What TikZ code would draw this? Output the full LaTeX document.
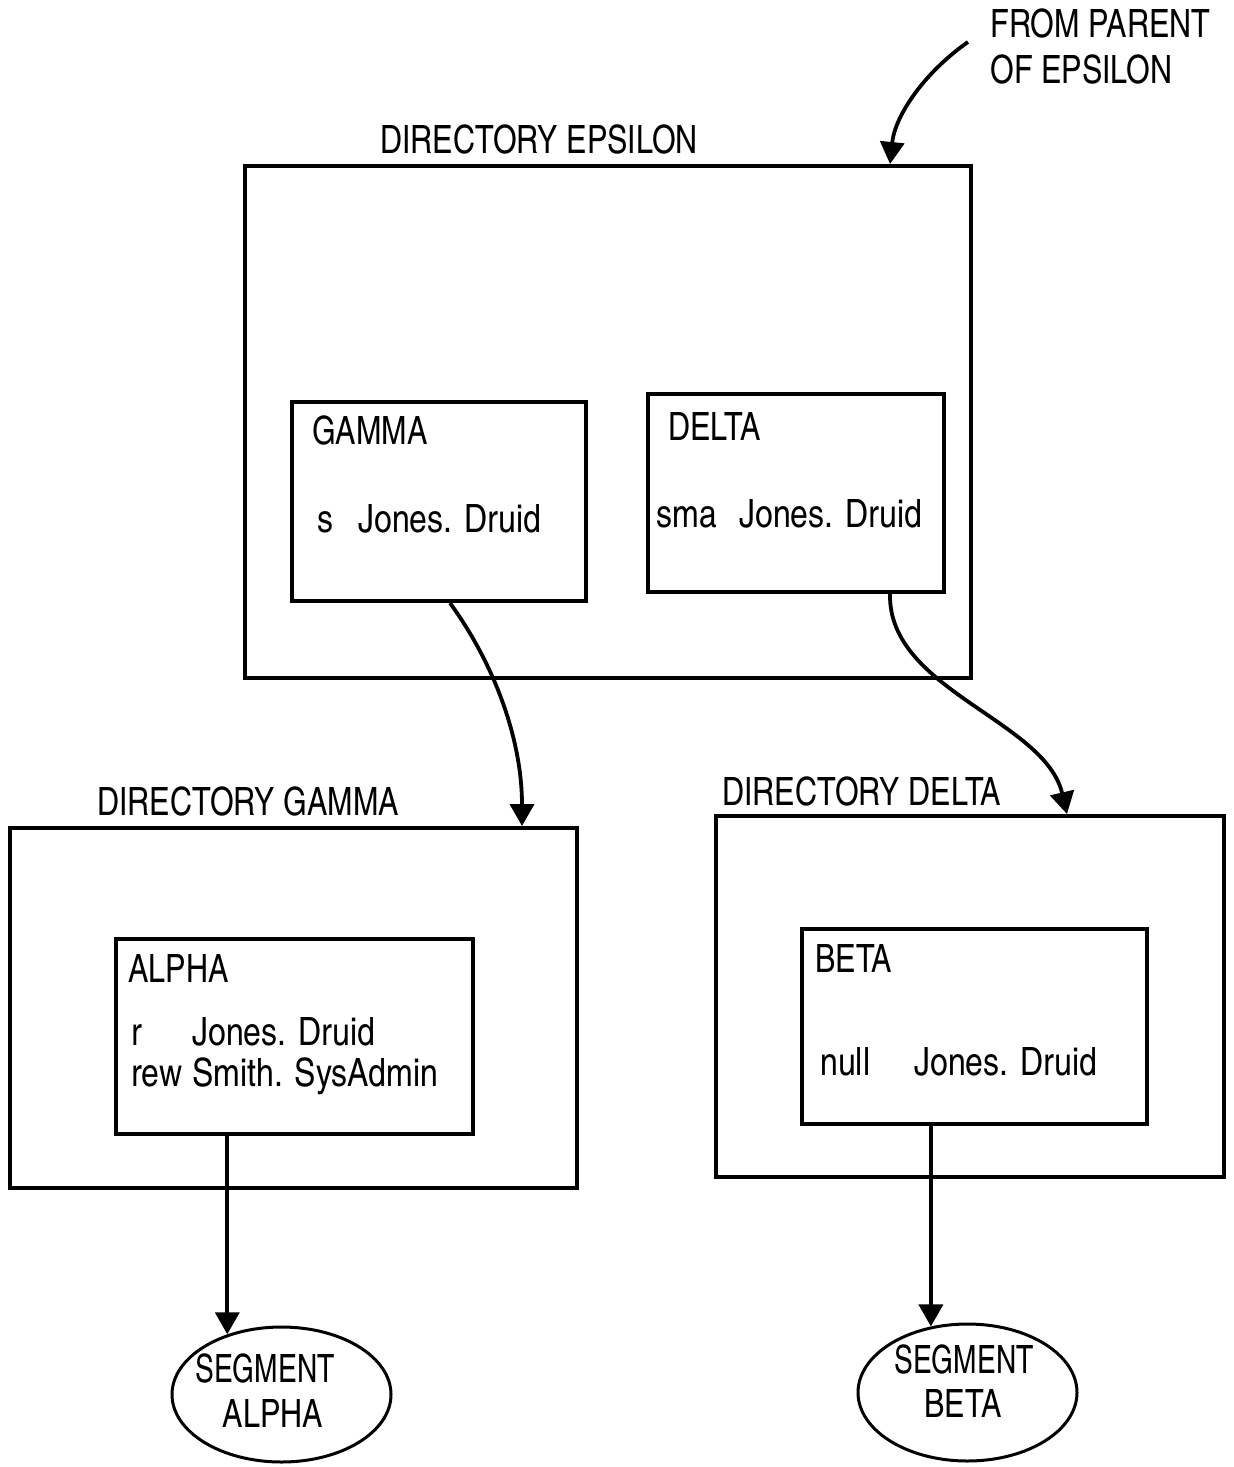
\documentclass[tikz,border=0pt]{standalone}
\usepackage{fontspec}
\setmainfont{TeX Gyre Heros Cn}
\newfontfamily\capfont[FakeStretch=0.955]{TeX Gyre Heros Cn}
\usetikzlibrary{arrows.meta,shapes.geometric}
\begin{document}
\begin{tikzpicture}[x=0.5pt,y=-0.5pt,
  box/.style={draw,line width=2pt,inner sep=0pt},
  lbl/.style={anchor=base west,inner sep=0pt,font=\fontsize{19.5}{22}\selectfont},
  caplbl/.style={lbl,font=\capfont\fontsize{19.5}{22}\selectfont},
  seg/.style={draw,ellipse,line width=1.5pt,inner sep=0pt},
  arr/.style={line width=1.9pt,-{Triangle[length=11pt,width=12pt]}}]
\useasboundingbox (0,0) rectangle (1233,1467);
% top label
\node[caplbl] (fp1) at (990,38) {FROM PARENT};
\node[caplbl] (fp2) at (990,83) {OF EPSILON};
\coordinate (fromp) at (968,42);
% Directory epsilon
\node[caplbl] (epsl) at (380,153) {DIRECTORY EPSILON};
\node[box,minimum width=363pt,minimum height=256pt] (eps) at (608,422) {};
\node[box,minimum width=147pt,minimum height=99.5pt] (gam) at (439,501.5) {};
\node[caplbl] (gamt) at (312,444) {GAMMA};
\node[lbl] (gams) at (317,532) {s};
\node[lbl] (gamj) at (358,532) {Jones. Druid};
\node[box,minimum width=148pt,minimum height=99pt] (del) at (796,493) {};
\node[caplbl] (delt) at (668,440) {DELTA};
\node[lbl] (dels) at (656,527) {sma};
\node[lbl] (delj) at (739,527) {Jones. Druid};
% Directory gamma
\node[caplbl] (dgl) at (97,815) {DIRECTORY GAMMA};
\node[box,minimum width=283.5pt,minimum height=180pt] (dg) at (293.5,1008) {};
\node[box,minimum width=178.5pt,minimum height=97.5pt] (alp) at (294.5,1036.5) {};
\node[caplbl] (alpt) at (128,982) {ALPHA};
\node[lbl] (alpr) at (131,1045) {r};
\node[lbl] (alpj) at (192,1045) {Jones. Druid};
\node[lbl] (alprw) at (131,1086) {rew};
\node[lbl] (alps) at (192,1086) {Smith. SysAdmin};
% Directory delta
\node[caplbl] (ddl) at (722,805) {DIRECTORY DELTA};
\node[box,minimum width=254pt,minimum height=180.5pt] (dd) at (970,996.5) {};
\node[box,minimum width=172.5pt,minimum height=97.5pt] (bet) at (974.5,1026.5) {};
\node[caplbl] (bett) at (815,972) {BETA};
\node[lbl] (betn) at (820,1075) {null};
\node[lbl] (betj) at (914,1075) {Jones. Druid};
% segments
\node[seg,minimum width=109.5pt,minimum height=67.5pt] (sga) at (281.5,1394.5) {};
\node[lbl,anchor=base] (sga1) at (265,1382) {\scalebox{0.88}[1]{SEGMENT}};
\node[caplbl,anchor=base] (sga2) at (273,1427) {ALPHA};
\node[seg,minimum width=109.5pt,minimum height=68.5pt] (sgb) at (967.5,1392.5) {};
\node[lbl,anchor=base] (sgb1) at (964,1373) {\scalebox{0.88}[1]{SEGMENT}};
\node[caplbl,anchor=base] (sgb2) at (963,1417) {BETA};
% connectors
\draw[arr] (fromp) .. controls (925,72) and (895,115) .. (eps.north -| 890,0);
\draw[arr] (gam.south -| 450,0) .. controls (495,665) and (522,740) .. (dg.north -| 522,0);
\draw[arr] (del.south -| 890,0) .. controls (888,690) and (1045,720) .. (dd.north -| 1067,0);
\draw[arr] (alp.south -| sga.132) -- (sga.132);
\draw[arr] (bet.south -| sgb.119) -- (sgb.119);
\end{tikzpicture}
\end{document}
